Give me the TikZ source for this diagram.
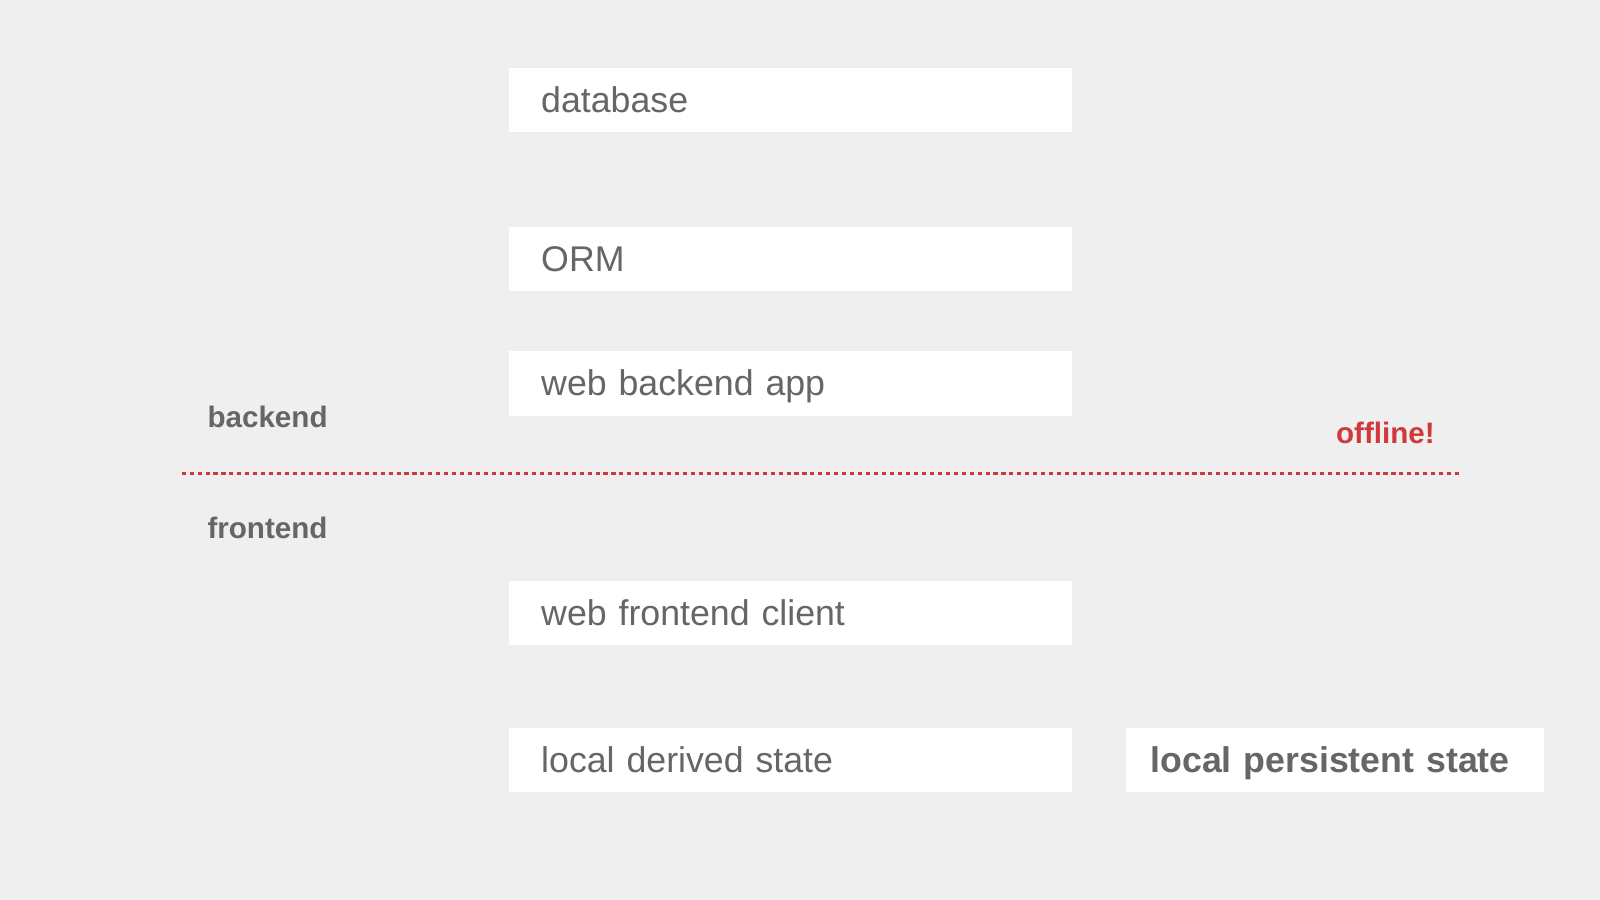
\documentclass[tikz,border=0pt]{standalone}
\usepackage{fontspec}
\setmainfont{Liberation Sans}
\definecolor{bgc}{HTML}{EFEFEF}
\definecolor{txt}{HTML}{666666}
\definecolor{redc}{HTML}{D0393B}
\begin{document}
\begin{tikzpicture}[x=0.5pt,y=-0.5pt,
  layerbox/.style={rectangle, fill=white, draw=none, anchor=north west,
    minimum width=276pt, minimum height=31.5pt, inner ysep=0pt, inner xsep=0pt,
    text width=276pt, align=left, text height=12pt, text depth=0pt,
    text=txt, font=\fontsize{17.5}{21}\selectfont},
  sidelabel/.style={anchor=base west, inner sep=0pt, text=txt,
    font=\fontsize{14.5}{17}\selectfont\bfseries}
]
\fill[bgc] (0,0) rectangle (1568,882);
\useasboundingbox (0,0) rectangle (1568,882);

\node[layerbox] (db) at (498,66) {\hspace*{16pt}database};
\node[layerbox] (orm) at (498,222) {\hspace*{16pt}ORM};
\node[layerbox] (wba) at (498,344) {\hspace*{16pt}web backend app};
\node[layerbox] (wfc) at (498,569) {\hspace*{16pt}web frontend client};
\node[layerbox] (lds) at (498,713) {\hspace*{16pt}local derived state};
\node[layerbox, minimum width=205pt, text width=205pt, font=\fontsize{17.5}{21}\selectfont\bfseries] (lps) at (1103,713) {\hspace*{12pt}local persistent state};

\node[sidelabel] (be) at (203,419) {backend};
\node[sidelabel] (fe) at (203,527.6) {frontend};
\node[sidelabel, text=redc] (off) at (1309,434.5) {offline!};

\coordinate (ls) at (178,464);
\coordinate (le) at (1433,464);
\draw[redc, line width=1.6pt, dash pattern=on 2pt off 1.9pt] (ls) -- (le);
\end{tikzpicture}
\end{document}
